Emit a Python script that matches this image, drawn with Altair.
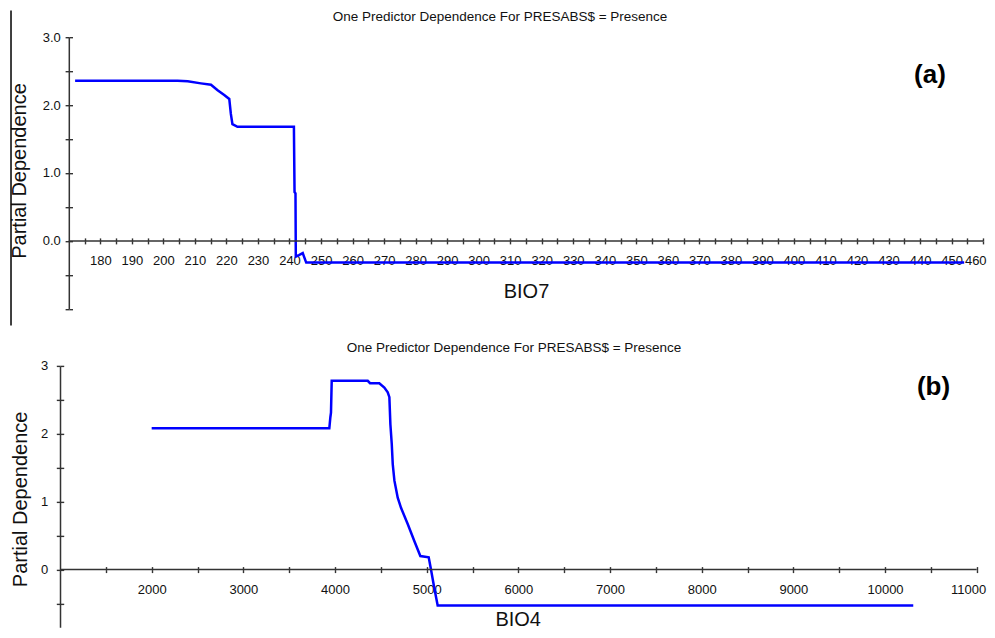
import altair as alt
import pandas as pd

# ---------------- data ----------------
title_text = "One Predictor Dependence For PRESABS$ = Presence"
panel_labels = ["(a)", "(b)"]

bio7_x = [172, 204.5, 207.7, 211.9, 215.1, 217.2, 219.3, 220.9, 221.4, 221.9,
          223.5, 241.4, 241.6, 241.9, 242.0, 243.0, 244.2, 245.3, 454]
bio7_pd = [2.36, 2.36, 2.35, 2.32, 2.30, 2.22, 2.15, 2.09, 1.87, 1.72,
           1.68, 1.68, 0.72, 0.70, -0.23, -0.21, -0.18, -0.32, -0.32]

bio4_x = [2000, 3938, 3949, 3956, 3964, 4357, 4382, 4483, 4538, 4575, 4593,
          4604, 4619, 4630, 4648, 4684, 4720, 4793, 4865, 4931, 5022, 5047,
          5083, 5120, 10308]
bio4_pd = [2.08, 2.08, 2.24, 2.31, 2.78, 2.78, 2.745, 2.745, 2.68, 2.61, 2.54,
           2.14, 1.85, 1.55, 1.31, 1.06, 0.91, 0.67, 0.42, 0.20, 0.18, 0.0,
           -0.27, -0.53, -0.53]

a_ticks = list(range(175, 461, 5))
b_ticks = list(range(1500, 11001, 500))
a_yticks = [-1, -0.5, 0, 0.5, 1, 1.5, 2, 2.5, 3]
b_yticks = [-0.5, 0, 0.5, 1, 1.5, 2, 2.5, 3]
a_span = [170, 460]
b_span = [1000, 11000]

# ---------------- styling ----------------
FONT = "Liberation Sans"
AX = "#333333"
TXT = "#111111"
BLUE = "#0000ff"

UNIT = 67.9               # pixels per unit of partial dependence
ZERO = 3 * UNIT           # distance from plot top to y = 0
A_H = 4 * UNIT
B_H = 3.85 * UNIT
A_W = 923.1
B_W = 916.7
A_YOFF = 8.8

a_yscale = alt.Scale(domain=[-1, 3], nice=False, zero=False)
b_yscale = alt.Scale(domain=[-0.85, 3], nice=False, zero=False)
a_xscale = alt.Scale(domain=[167.21, 460], nice=False, zero=False)
b_xscale = alt.Scale(domain=[1000, 11000], nice=False, zero=False)

common_lbl = dict(labelFont=FONT, labelFontSize=13, labelColor=TXT,
                  labelOverlap=False, grid=False, tickColor=AX, tickWidth=1.4)
common_title = dict(titleFont=FONT, titleFontSize=20, titleFontWeight="normal",
                    titleColor=TXT, titleBaseline="alphabetic", titleAlign="center")


def panel(xs, ys, xname, xscale, yscale, height, ticks, yticks, span, width, yoff,
          bexpr, lexpr, btx, bty, bpad, flush_off, ltx, lty, lpad,
          title_x, title_y, lab, lab_x, lab_y, border=False):
    bottom = alt.Axis(orient="bottom", offset=-(height - ZERO), values=ticks,
                      labelExpr=bexpr, domain=False, tickSize=3, labelPadding=bpad,
                      labelFlush=True, labelFlushOffset=flush_off,
                      title=xname, titleX=btx, titleY=bty, **common_lbl, **common_title)
    left = alt.Axis(orient="left", offset=-yoff, values=yticks, labelExpr=lexpr,
                    domain=True, domainColor=AX, domainWidth=1.5, tickSize=3.7,
                    labelPadding=lpad, labelFlush=False,
                    title="Partial Dependence", titleAngle=270,
                    titleX=ltx, titleY=lty, **common_lbl, **common_title)
    top = alt.Axis(orient="top", offset=-ZERO, values=ticks, labels=False,
                   domain=False, grid=False, tickSize=3, tickColor=AX,
                   tickWidth=1.4, title=None)
    right = alt.Axis(orient="right", offset=-(width - yoff), values=yticks,
                     labels=False, domain=False, grid=False, tickSize=3.7,
                     tickColor=AX, tickWidth=1.4, title=None)

    df = pd.DataFrame({xname: xs, "pd": ys})
    line = alt.Chart(df).mark_line(color=BLUE, strokeWidth=2.5).encode(
        x=alt.X(f"{xname}:Q", scale=xscale, axis=bottom),
        y=alt.Y("pd:Q", scale=yscale, axis=left),
    )
    rule_df = pd.DataFrame({"x0": [span[0]], "x1": [span[1]], "y0": [0]})
    xline = alt.Chart(rule_df).mark_rule(color=AX, strokeWidth=1.5).encode(
        x=alt.X("x0:Q", scale=xscale, axis=top),
        x2="x1:Q",
        y=alt.Y("y0:Q", scale=yscale, axis=right),
    )
    ttl = alt.Chart(pd.DataFrame({"t": [title_text]})).mark_text(
        font=FONT, fontSize=13.5, color=TXT, align="center", baseline="alphabetic"
    ).encode(text="t:N", x=alt.value(title_x), y=alt.value(title_y))
    plab = alt.Chart(pd.DataFrame({"t": [lab]})).mark_text(
        font=FONT, fontSize=26, fontWeight="bold", color="#000000",
        align="center", baseline="alphabetic"
    ).encode(text="t:N", x=alt.value(lab_x), y=alt.value(lab_y))
    layers = [line, xline, ttl, plab]
    if border:
        frame = alt.Chart(pd.DataFrame({"t": [0]})).mark_rule(
            color="#000000", strokeWidth=1.5
        ).encode(x=alt.value(-49), y=alt.value(-26.7), y2=alt.value(288.3))
        layers.append(frame)
    return alt.layer(*layers).resolve_axis(x="independent", y="independent").properties(
        width=width, height=height)


chart_a = panel(
    bio7_x, bio7_pd, "BIO7", a_xscale, a_yscale, A_H, a_ticks, a_yticks, a_span,
    A_W, A_YOFF,
    "datum.value % 10 == 0 ? format(datum.value, 'd') : ''",
    "datum.value >= 0 && datum.value % 1 == 0 ? format(datum.value, '.1f') : ''",
    466, 56.3, 10.75, 3, -43.8, 133.3, 4.8,
    440, -16.5, panel_labels[0], 870, 45.8, border=True)

chart_b = panel(
    bio4_x, bio4_pd, "BIO4", b_xscale, b_yscale, B_H, b_ticks, b_yticks, b_span,
    B_W, 0,
    "datum.value % 1000 == 0 && datum.value >= 2000 ? format(datum.value, 'd') : ''",
    "datum.value >= 0 && datum.value % 1 == 0 ? format(datum.value, 'd') : ''",
    457.7, 55.8, 11.25, 9, -33.7, 133, 8.6,
    454, -13.5, panel_labels[1], 873.5, 29)

chart = (
    alt.vconcat(chart_a, chart_b, spacing=56.7, bounds="flush")
    .properties(padding={"left": 0, "top": 1.2, "right": 0, "bottom": 0})
    .configure(font=FONT, background="white")
    .configure_view(stroke="transparent", strokeWidth=0)
)

chart.save("out.html", embed_options={"renderer": "svg", "actions": False})
